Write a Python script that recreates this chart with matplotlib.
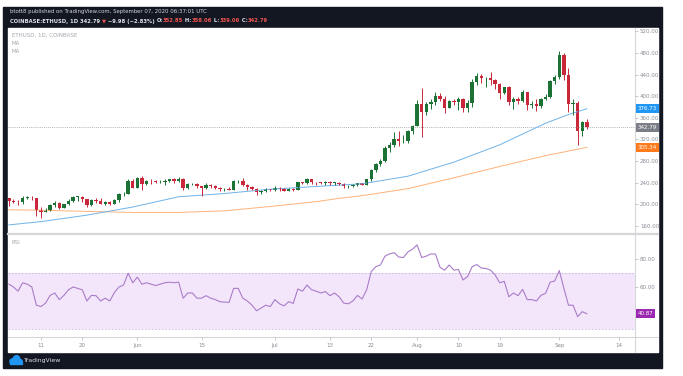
import matplotlib
matplotlib.use('Agg')
import matplotlib.pyplot as plt
from matplotlib.patches import Rectangle, Circle
import numpy as np

W, H = 683, 376
DARK = '#131722'
UP, DOWN = '#1c7234', '#c9283a'

# daily ETHUSD candles, index 0 = 4 May 2020 ... index 126 = 7 Sep 2020
opens = [211, 207, 205, 204, 212, 212, 211, 189, 186, 190, 199, 203, 194, 200, 207, 214, 214, 209, 198, 208,
         207, 201, 205, 201, 208, 219, 220, 244,
         231, 248, 237, 244, 243, 241, 242, 244, 246, 244, 247, 231, 237, 238, 233, 231, 235, 234, 231, 228,
         229, 227, 243, 244, 235, 232, 229, 222, 225, 228,
         226, 231, 229, 225, 229, 227, 241, 239, 246, 242, 241, 240, 242, 240, 240, 238, 233, 233, 236, 239,
         236, 246, 263, 275, 280, 305, 310, 321, 317, 318, 335,
         345, 386, 370, 386, 389, 401, 395, 379, 391, 390, 395, 378, 387, 427, 437, 433, 434, 429, 423, 406,
         416, 389, 395, 391, 408, 383, 386, 381, 394, 399, 428,
         435, 477, 440, 385, 387, 335, 352.85]
highs = [211, 210, 208, 215, 216, 215, 212, 195, 193, 200, 206, 204, 201, 210, 215, 216, 215, 210, 210, 211,
         212, 206, 207, 209, 221, 222, 246, 247,
         250, 253, 245, 246, 245, 245, 246, 247, 248, 250, 249, 240, 239, 239, 233, 239, 238, 235, 232, 230,
         232, 245, 245, 248, 237, 233, 230, 227, 230, 229,
         233, 232, 230, 230, 230, 242, 241, 248, 247, 242, 242, 243, 244, 242, 241, 239, 235, 237, 240, 240,
         247, 265, 277, 283, 307, 315, 334, 335, 328, 337, 347,
         393, 415, 390, 394, 407, 406, 400, 392, 395, 398, 397, 392, 431, 442, 441, 436, 445, 431, 425, 417,
         418, 398, 398, 412, 408, 391, 394, 396, 404, 430, 440,
         484, 479, 452, 395, 391, 354, 358.06]
lows = [197, 202, 199, 200, 209, 208, 178, 175, 185, 188, 195, 192, 193, 198, 205, 207, 205, 195, 197, 202,
        200, 198, 199, 200, 205, 215, 219, 230,
        230, 227, 235, 237, 239, 240, 235, 242, 240, 242, 226, 229, 235, 231, 216, 229, 231, 229, 225, 225,
        227, 227, 240, 233, 227, 226, 218, 220, 222, 224,
        225, 224, 224, 224, 225, 226, 237, 238, 238, 236, 237, 236, 236, 235, 236, 230, 231, 232, 234, 235,
        236, 244, 260, 270, 278, 296, 306, 308, 313, 313, 330,
        345, 325, 365, 376, 383, 391, 369, 378, 383, 375, 370, 371, 380, 420, 425, 416, 420, 413, 395, 404,
        383, 376, 386, 390, 375, 379, 372, 378, 392, 397, 423,
        432, 430, 370, 365, 309, 326, 339.06]
closes = [207, 205, 204, 212, 212, 211, 189, 186, 190, 199, 203, 194, 200, 207, 214, 214, 209, 198, 208, 207,
          201, 205, 201, 208, 219, 220, 244, 231,
          248, 237, 244, 243, 241, 242, 244, 246, 244, 247, 231, 237, 238, 233, 231, 235, 234, 231, 228, 229,
          227, 243, 244, 235, 232, 229, 222, 225, 228, 226,
          231, 229, 225, 229, 227, 241, 239, 246, 242, 241, 240, 242, 240, 240, 238, 233, 233, 236, 239, 236,
          246, 263, 275, 280, 305, 310, 321, 317, 318, 335, 345,
          386, 370, 386, 389, 401, 395, 379, 391, 390, 395, 378, 387, 427, 437, 433, 434, 429, 423, 406, 416,
          389, 395, 391, 408, 383, 386, 381, 394, 399, 428, 435,
          477, 440, 385, 387, 335, 352.77, 342.79]

# moving averages (day index, value)
ma_blue_idx = [0, 7, 17, 27, 37, 47, 57, 67, 77, 87, 97, 107, 117, 122, 126]
ma_blue_val = [162, 168, 180, 195, 214, 220, 228, 233, 238, 252, 278, 310, 350, 366, 376.73]
ma_orange_idx = [0, 7, 17, 27, 37, 47, 57, 67, 72, 77, 87, 97, 107, 117, 126]
ma_orange_val = [190, 189, 187, 185, 185, 188, 196, 205, 211, 216, 229, 249, 270, 290, 305.34]

# RSI, one value per day
rsi = [62, 60, 57, 63, 62, 60, 47,
       46, 48.5, 54, 55.7, 51, 54, 58, 60, 59, 58,
       50, 54, 53.8, 50, 52, 50, 56, 60, 61.4, 69.8,
       63, 67, 62, 63, 62, 61, 62, 63, 63.4, 63,
       63.5, 52, 55.7, 55.7, 52, 52, 53.8, 52, 51, 49.5,
       49.2, 49, 59, 59, 52, 50, 47, 43, 45, 47,
       46, 51, 48, 46.5, 49.5, 48.3, 58.6, 57, 61.4, 58,
       57, 55.7, 56.7, 53.8, 55.7, 53, 48.5, 48, 50, 54,
       51.4, 58, 71, 74.5, 75.7, 82, 83.6, 84.5, 81.4, 81,
       85, 87, 90, 81, 82, 83.6, 83.5, 74, 72, 75.7,
       72, 72.5, 65, 67.4, 74.5, 76, 73.5, 73.2, 72, 68.6,
       63, 64, 53, 55.7, 53.8, 58.3, 51, 51, 50, 54,
       55.5, 63.4, 64.3, 71.7, 59, 47, 47, 38.8, 42.4, 40.87]

tick_pos = [7, 16, 28, 42, 58, 70, 79, 89, 98, 107, 120, 133]
tick_lbl = ['11', '20', 'Jun', '15', 'Jul', '13', '22', 'Aug', '10', '19', 'Sep', '14']


def fbox(x0, y0, x1, y1):
    # pixel box -> figure fractions
    return [x0 / W, 1 - y1 / H, (x1 - x0) / W, (y1 - y0) / H]


fig = plt.figure(figsize=(6.83, 3.76), dpi=100)
fig.patch.set_facecolor('white')

bg = fig.add_axes([0, 0, 1, 1])
bg.set_xlim(0, W)
bg.set_ylim(H, 0)
bg.axis('off')
bg.add_patch(Rectangle((3, 7), 659, 361, color=DARK))
bg.add_patch(Rectangle((8, 28), 650, 324, color='white'))
bg.plot([8, 658], [233.5, 233.5], color='#d5d6da', lw=1.6)
bg.plot([8, 658], [337, 337], color='#d5d6da', lw=0.8)
bg.plot([635, 635], [28, 352], color='#d5d6da', lw=0.8)

# header
bg.text(10, 12, 'btott8 published on TradingView.com, September 07, 2020 06:37:01 UTC',
        fontsize=3.9, va='center', color='#d1d4dc')
pieces = [('COINBASE:ETHUSD, 1D 342.79 ', '#e0e3eb'), ('▼', '#ef5350'), (' −9.98 (−2.83%) ', '#e0e3eb'),
          ('O:', '#e0e3eb'), ('352.85', '#ef5350'), (' H:', '#e0e3eb'), ('358.06', '#ef5350'),
          (' L:', '#e0e3eb'), ('339.06', '#ef5350'), (' C:', '#e0e3eb'), ('342.79', '#ef5350')]
prev = bg.text(10, 21, pieces[0][0], fontsize=3.8, va='center', color=pieces[0][1], fontweight='bold')
for txt, col in pieces[1:]:
    prev = bg.annotate(txt, xy=(1, 0.5), xycoords=prev, va='center', ha='left', fontsize=3.8, color=col,
                       fontweight='bold')

# legend lines
for y, t in [(35, 'ETHUSD, 1D, COINBASE'), (43.5, 'MA'), (51.5, 'MA')]:
    bg.text(12, y, t, fontsize=4, color='#a3a6af', va='center')
bg.text(12, 243, 'RSI', fontsize=4, color='#a3a6af', va='center')

# logo
for cx, cy, r in [(12.5, 361.5, 2.6), (16.5, 359, 3.3), (20, 361.8, 2.3)]:
    bg.add_patch(Circle((cx, cy), r, color='#2196f3'))
bg.add_patch(Rectangle((10, 361.5), 12, 2.8, color='#2196f3'))
bg.text(23.5, 360.5, 'TradingView', fontsize=4.4, color='#e0e3eb', va='center')

x = np.arange(len(closes))
o, hi, lo, c = map(np.array, (opens, highs, lows, closes))
cols = np.where(c >= o, UP, DOWN)

ax = fig.add_axes(fbox(8, 28, 635, 233))
ax.set_facecolor('none')
for s in ax.spines.values():
    s.set_visible(False)
ax.set_xlim(-0.19, 136.5)
ax.set_ylim(147, 526)
ax.set_xticks([])
ax.yaxis.tick_right()
ax.set_yticks(range(160, 521, 40))
ax.set_yticklabels([f'{v:.2f}' for v in range(160, 521, 40)])
ax.tick_params(axis='y', length=2, width=0.5, color='#b2b5be', labelsize=4, labelcolor='#8a8d96', pad=1.5)

ax.axhline(closes[-1], color='#9598a1', lw=0.6, ls=(0, (1, 1.5)))
ax.plot(ma_orange_idx, ma_orange_val, color='#ffb27a', lw=0.7)
ax.plot(ma_blue_idx, ma_blue_val, color='#6fb3e8', lw=0.7)
ax.vlines(x, lo, hi, colors=cols, lw=0.7)
body = np.maximum(np.abs(c - o), 1.0)
ax.bar(x, body, bottom=np.minimum(o, c), width=0.74, color=cols)

for val, fc in [(ma_blue_val[-1], '#2196f3'), (closes[-1], '#7b7e86'), (ma_orange_val[-1], '#ff7a1a')]:
    ax.annotate(f'{val:.2f}', xy=(1.004, val), xycoords=('axes fraction', 'data'), fontsize=4, color='white',
                va='center', ha='left', annotation_clip=False,
                bbox=dict(boxstyle='square,pad=0.35', fc=fc, ec='none'))

ax2 = fig.add_axes(fbox(8, 234, 635, 337))
ax2.set_facecolor('none')
for s in ax2.spines.values():
    s.set_visible(False)
ax2.set_xlim(-0.19, 136.5)
ax2.set_ylim(24.3, 97.8)
ax2.axhspan(30, 70, color='#f3e6fb', lw=0)
ax2.axhline(70, color='#c8b4d8', lw=0.6, ls=(0, (2, 2)))
ax2.axhline(30, color='#c8b4d8', lw=0.6, ls=(0, (2, 2)))
ax2.plot(x, rsi, color='#a97cc9', lw=0.8)
ax2.yaxis.tick_right()
ax2.set_yticks([60, 80])
ax2.set_yticklabels(['60.00', '80.00'])
ax2.tick_params(axis='y', length=2, width=0.5, color='#b2b5be', labelsize=4, labelcolor='#8a8d96', pad=1.5)
ax2.set_xticks(tick_pos)
ax2.set_xticklabels(tick_lbl)
ax2.tick_params(axis='x', length=2, width=0.5, color='#b2b5be', labelsize=4, labelcolor='#8a8d96', pad=2)
ax2.annotate(f'{rsi[-1]:.2f}', xy=(1.004, rsi[-1]), xycoords=('axes fraction', 'data'), fontsize=4,
             color='white', va='center', ha='left', annotation_clip=False,
             bbox=dict(boxstyle='square,pad=0.35', fc='#9c27b0', ec='none'))

fig.savefig('out.png', dpi=100)
